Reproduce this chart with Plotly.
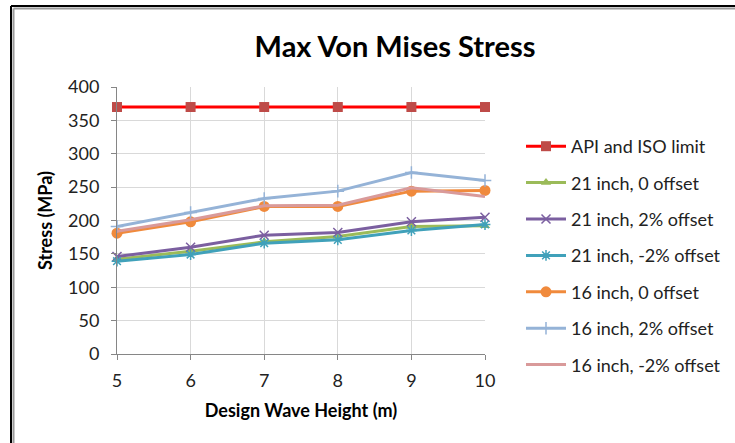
import plotly.graph_objects as go

# Design wave heights (m)
wave_height = [5, 6, 7, 8, 9, 10]

# Max von Mises stress (MPa) for each riser case
api_iso_limit = [370, 370, 370, 370, 370, 370]
in21_off0 = [142, 154, 168, 176, 191, 192]
in21_off2 = [146, 160, 178, 182, 198, 205]
in21_offm2 = [139, 149, 166, 171, 185, 194]
in16_off0 = [181, 198, 221, 221, 244, 245]
in16_off2 = [191, 212, 233, 244, 272, 260]
in16_offm2 = [184, 201, 222, 223, 249, 236]

y_ticks = [0, 50, 100, 150, 200, 250, 300, 350, 400]

FONT = "Lato, Calibri, sans-serif"
W, H = 735, 443
ML, MR, MT, MB = 117, 250, 87, 89
PW, PH = W - ML - MR, H - MT - MB


def px_to_paper(px, py):
    return (px - ML) / PW, (H - MB - py) / PH


series = [
    ("API and ISO limit", api_iso_limit, "#FF0000",
     dict(symbol="square", size=10, color="#BE4B48", line=dict(width=0))),
    ("21 inch, 0 offset", in21_off0, "#9BBB59",
     dict(symbol="triangle-up", size=9, color="#9BBB59", line=dict(width=0))),
    ("21 inch, 2% offset", in21_off2, "#7B5FA0",
     dict(symbol="x-thin", size=9, color="#7B5FA0", line=dict(width=1.5, color="#7B5FA0"))),
    ("21 inch, -2% offset", in21_offm2, "#40A1BA",
     dict(symbol="asterisk", size=9, color="#40A1BA", line=dict(width=1.5, color="#40A1BA"))),
    ("16 inch, 0 offset", in16_off0, "#F08A3C",
     dict(symbol="circle", size=11, color="#F08A3C", line=dict(width=0))),
    ("16 inch, 2% offset", in16_off2, "#95B3D7",
     dict(symbol="cross-thin", size=9, color="#95B3D7", line=dict(width=1.5, color="#95B3D7"))),
    ("16 inch, -2% offset", in16_offm2, "#D99A9A", None),
]

fig = go.Figure()
for i, (name, vals, col, mk) in enumerate(series):
    fig.add_trace(go.Scatter(
        x=wave_height, y=vals, name=name, legendgroup=f"g{i}",
        mode="lines+markers" if mk else "lines",
        line=dict(color=col, width=3),
        marker=mk,
        cliponaxis=False,
    ))

lx, ly = px_to_paper(521, 128)
tx, ty = px_to_paper(395, 47)
fig.update_layout(
    width=W, height=H,
    margin=dict(l=ML, r=MR, t=MT, b=MB, autoexpand=False),
    paper_bgcolor="white", plot_bgcolor="white",
    font=dict(family=FONT, size=18, color="#222222"),
    title=dict(text="<b>Max Von Mises Stress</b>", x=tx, xanchor="center",
               xref="paper", y=1 - 47 / H, yanchor="middle",
               font=dict(size=29, color="#000000", family=FONT)),
    legend=dict(x=lx, y=ly, xanchor="left", yanchor="top",
                font=dict(size=18, family=FONT, color="#222222"),
                tracegroupgap=10, itemwidth=40, bgcolor="rgba(0,0,0,0)"),
    showlegend=True,
)
fig.update_xaxes(
    range=[5, 10], tickvals=wave_height, showgrid=True, gridcolor="#D9D9D9",
    showline=True, linecolor="#868686", linewidth=1,
    ticks="outside", ticklen=5, tickcolor="#868686",
    ticklabelstandoff=5,
    tickfont=dict(size=18, color="#222222"),
    title=dict(text="<b>Design Wave Height (m)</b>", standoff=14,
               font=dict(size=18, color="#000000")),
    zeroline=False,
)
fig.update_yaxes(
    range=[0, 400], tickvals=y_ticks, showgrid=True, gridcolor="#D9D9D9",
    showline=True, linecolor="#868686", linewidth=1,
    ticks="outside", ticklen=5, tickcolor="#868686",
    ticklabelstandoff=8,
    tickfont=dict(size=18, color="#222222"),
    title=dict(text="<b>Stress (MPa)</b>", standoff=10,
               font=dict(size=18, color="#000000")),
    zeroline=False,
)

# chart frame: black outer edge with a grey inner shadow (top and left sides)
far_x, _ = px_to_paper(W + 50, 0)
_, far_y = px_to_paper(0, H + 50)
bx, by = px_to_paper(11, 6)
gx, gy = px_to_paper(13.5, 8.5)
for (cx, cy, col) in [(gx, gy, "#9A9A9A"), (bx, by, "black")]:
    fig.add_shape(type="line", xref="paper", yref="paper", x0=cx, y0=cy, x1=far_x, y1=cy,
                  line=dict(color=col, width=2), layer="above")
    fig.add_shape(type="line", xref="paper", yref="paper", x0=cx, y0=cy, x1=cx, y1=far_y,
                  line=dict(color=col, width=2), layer="above")

fig.write_html("out.html")
